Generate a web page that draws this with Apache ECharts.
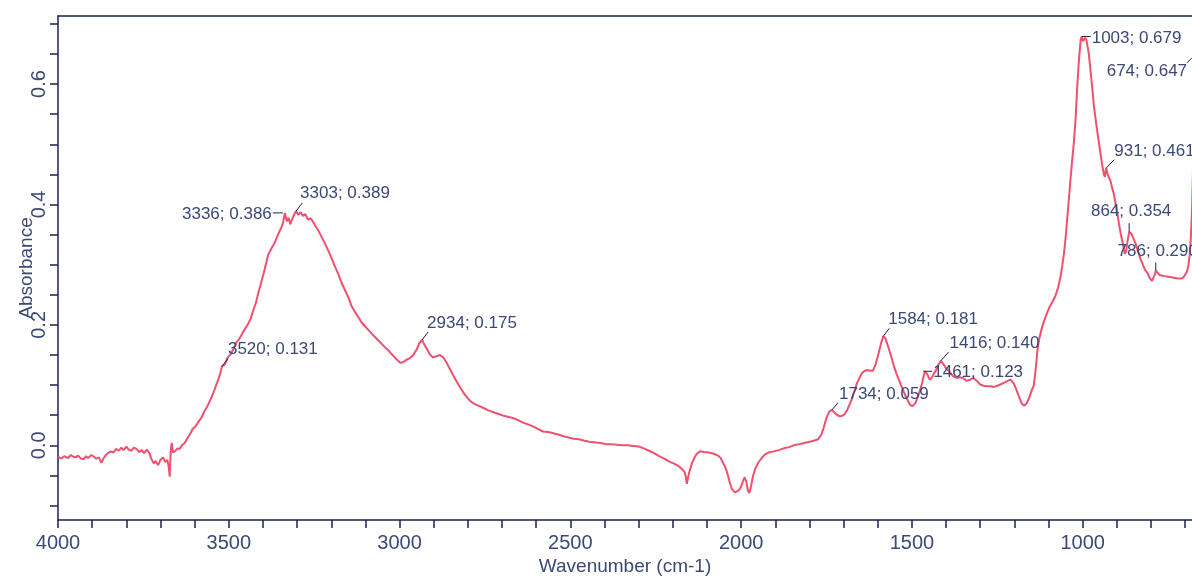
<!DOCTYPE html>
<html>
<head>
<meta charset="utf-8">
<script src="https://cdn.jsdelivr.net/npm/echarts@6/dist/echarts.min.js"></script>
<style>
html,body{margin:0;padding:0;background:#fff;}
#chart{width:1192px;height:577px;}
</style>
</head>
<body>
<div id="chart"></div>
<script>
// ---- DATA ----
const wavenumbers = [
4000,3990,3982,3971,3962,3955,3948,3941,3933,3925,3918,3912,3902,3895,3888,3880,3873,3866,3860,3854,
3845,3838,3830,3822,3815,3808,3800,3793,3785,3778,3770,3762,3755,3748,3740,3733,3727,3720,3714,3707,
3700,3692,3686,3680,3676,3673,3670,3667,3663,3656,3650,3644,3636,3629,3620,3612,3605,3598,3590,3580,
3570,3560,3551,3542,3533,3526,3520,3512,3503,3495,3486,3478,3470,3462,3453,3444,3436,3428,3421,3414,
3405,3395,3385,3376,3366,3356,3346,3341,3336,3330,3325,3320,3315,3308,3303,3297,3290,3283,3276,3268,
3260,3252,3245,3238,3229,3220,3210,3200,3190,3180,3170,3160,3150,3141,3132,3122,3111,3100,3090,3082,
3072,3062,3053,3043,3033,3024,3014,3005,2998,2990,2980,2970,2960,2950,2942,2934,2928,2920,2911,2902,
2892,2882,2872,2862,2852,2842,2830,2820,2810,2800,2790,2778,2766,2754,2740,2725,2710,2695,2680,2666,
2650,2635,2620,2608,2594,2580,2565,2550,2535,2520,2505,2490,2475,2461,2445,2430,2412,2395,2380,2364,
2348,2332,2315,2300,2285,2270,2255,2240,2225,2210,2198,2188,2180,2172,2166,2162,2159,2155,2150,2144,
2138,2130,2120,2108,2095,2080,2068,2060,2053,2046,2040,2034,2027,2018,2010,2003,1996,1990,1985,1980,
1976,1971,1965,1958,1950,1940,1930,1920,1905,1890,1875,1860,1846,1830,1815,1800,1785,1775,1765,1758,
1750,1742,1734,1726,1718,1710,1700,1690,1680,1670,1661,1653,1646,1638,1630,1622,1614,1606,1598,1590,
1584,1578,1570,1562,1553,1544,1534,1524,1514,1505,1498,1490,1483,1476,1470,1464,1461,1455,1448,1442,
1436,1430,1424,1416,1408,1400,1390,1380,1370,1360,1350,1340,1330,1320,1310,1300,1290,1280,1270,1260,
1250,1241,1230,1220,1211,1202,1194,1186,1179,1172,1165,1158,1150,1143,1137,1132,1127,1121,1114,1107,
1100,1094,1087,1080,1072,1065,1060,1055,1050,1046,1041,1036,1031,1026,1021,1016,1011,1006,1003,999,
996,993,989,985,982,977,972,967,962,958,953,948,943,938,935,933,931,928,923,919,
914,909,904,899,894,889,884,881,877,873,869,864,858,852,845,838,831,824,818,811,
804,797,792,789,786,781,775,768,760,750,740,730,720,712,705,700,695,690,686,683,
680,677,674
];
const absorbance = [
-0.019,-0.022,-0.018,-0.021,-0.016,-0.019,-0.020,-0.017,-0.022,-0.023,-0.018,-0.021,-0.016,-0.019,-0.022,-0.020,-0.029,-0.021,-0.016,-0.013,
-0.010,-0.012,-0.006,-0.009,-0.004,-0.008,-0.002,-0.007,-0.009,-0.004,-0.006,-0.011,-0.008,-0.013,-0.007,-0.012,-0.022,-0.030,-0.026,-0.033,
-0.024,-0.020,-0.028,-0.024,-0.035,-0.052,-0.010,0.004,-0.012,-0.009,-0.005,-0.006,0.001,0.004,0.013,0.020,0.028,0.031,0.038,0.046,
0.058,0.068,0.079,0.092,0.106,0.117,0.131,0.134,0.146,0.151,0.160,0.171,0.176,0.184,0.193,0.201,0.210,0.225,0.236,0.252,
0.271,0.292,0.316,0.326,0.336,0.350,0.362,0.370,0.386,0.372,0.378,0.367,0.375,0.384,0.389,0.383,0.387,0.381,0.384,0.375,
0.377,0.370,0.363,0.357,0.347,0.337,0.325,0.312,0.298,0.285,0.270,0.258,0.246,0.232,0.223,0.214,0.204,0.197,0.191,0.186,
0.180,0.174,0.169,0.163,0.158,0.152,0.146,0.141,0.137,0.138,0.142,0.145,0.150,0.159,0.170,0.175,0.168,0.160,0.151,0.146,
0.148,0.150,0.146,0.137,0.126,0.115,0.103,0.094,0.085,0.078,0.072,0.068,0.065,0.062,0.058,0.055,0.052,0.049,0.047,0.045,
0.041,0.037,0.034,0.031,0.027,0.023,0.022,0.020,0.018,0.015,0.013,0.011,0.010,0.008,0.006,0.005,0.004,0.002,0.002,0.001,
0.000,0.000,-0.001,-0.002,-0.005,-0.009,-0.013,-0.018,-0.022,-0.027,-0.030,-0.033,-0.036,-0.040,-0.044,-0.052,-0.064,-0.052,-0.041,-0.030,
-0.022,-0.014,-0.010,-0.011,-0.012,-0.014,-0.017,-0.021,-0.029,-0.037,-0.047,-0.060,-0.073,-0.078,-0.076,-0.072,-0.062,-0.053,-0.060,-0.075,
-0.079,-0.068,-0.050,-0.038,-0.029,-0.021,-0.015,-0.012,-0.010,-0.008,-0.005,-0.003,0.000,0.002,0.004,0.006,0.008,0.010,0.018,0.030,
0.046,0.056,0.059,0.054,0.050,0.048,0.050,0.058,0.071,0.087,0.103,0.113,0.120,0.124,0.125,0.124,0.124,0.135,0.152,0.170,
0.181,0.178,0.165,0.150,0.132,0.117,0.103,0.089,0.076,0.067,0.065,0.070,0.080,0.092,0.104,0.119,0.123,0.118,0.109,0.112,
0.119,0.124,0.132,0.140,0.135,0.128,0.122,0.115,0.112,0.113,0.112,0.107,0.109,0.112,0.107,0.101,0.099,0.098,0.098,0.097,
0.099,0.101,0.104,0.107,0.109,0.103,0.092,0.080,0.070,0.066,0.069,0.077,0.090,0.100,0.130,0.160,0.178,0.192,0.205,0.216,
0.226,0.233,0.240,0.248,0.262,0.280,0.298,0.318,0.345,0.372,0.405,0.440,0.472,0.502,0.540,0.595,0.640,0.673,0.679,0.671,
0.668,0.677,0.673,0.660,0.650,0.622,0.593,0.563,0.541,0.524,0.505,0.485,0.466,0.450,0.446,0.455,0.461,0.452,0.444,0.440,
0.428,0.418,0.402,0.386,0.369,0.352,0.339,0.331,0.318,0.322,0.338,0.354,0.352,0.344,0.335,0.322,0.310,0.300,0.292,0.287,
0.278,0.273,0.276,0.284,0.290,0.287,0.283,0.282,0.281,0.280,0.279,0.278,0.277,0.277,0.279,0.282,0.288,0.300,0.320,0.350,
0.390,0.460,0.647
];

// Peak annotations (wavenumber, absorbance)
const annWn  = [3520, 3336, 3303, 2934, 1734, 1584, 1461, 1416, 1003, 674, 931, 864, 786];
const annAbs = [0.131, 0.386, 0.389, 0.175, 0.059, 0.181, 0.123, 0.140, 0.679, 0.647, 0.461, 0.354, 0.290];

// Axis ticks / labels
const xTickValues  = [];
for (let v = 700; v <= 4000; v += 100) xTickValues.push(v);
const xLabelValues = [1000, 1500, 2000, 2500, 3000, 3500, 4000];
const yTickValues  = [];
for (let i = -2; i <= 14; i++) yTickValues.push(Math.round(i * 5) / 100);
const yLabelValues = [0, 0.2, 0.4, 0.6];

// ---- LAYOUT / STYLE for annotations (pixel offsets relative to the point) ----
// l: leader line [x1,y1,x2,y2], t: text anchor [x,y], a: text align
const annLayout = [
  {l:[0,0,6,-8],   t:[6,-17],  a:'left'},
  {l:[-2,0,-12,0], t:[-13,1],  a:'right'},
  {l:[0,0,6,-8],   t:[4,-18],  a:'left'},
  {l:[0,0,6,-8],   t:[5,-17],  a:'left'},
  {l:[0,0,6,-7],   t:[7,-15],  a:'left'},
  {l:[0,0,6,-8],   t:[5,-17],  a:'left'},
  {l:[-2,0,7,0],   t:[8,1],    a:'left'},
  {l:[0,0,8,-9],   t:[9,-18],  a:'left'},
  {l:[0,0,9,0],    t:[10,2],   a:'left'},
  {l:[-2,2,-7,7],  t:[-7,16],  a:'right'},
  {l:[0,0,8,-8],   t:[8,-16],  a:'left'},
  {l:[0,0,0,-9],   t:[2,-21],  a:'center'},
  {l:[0,0,0,-8],   t:[2,-19],  a:'center'}
];

const AXIS_COLOR = '#1b2050';
const TEXT_COLOR = '#3c4876';
const FONT = '"Liberation Sans", Arial, sans-serif';

const chart = echarts.init(document.getElementById('chart'), null, {renderer: 'canvas'});

const option = {
  animation: false,
  backgroundColor: '#ffffff',
  grid: {left: 58, right: 0, top: 16, bottom: 57, containLabel: false, outerBoundsMode: 'none'},
  xAxis: [{
    type: 'value',
    inverse: true,
    min: 680,
    max: 4000,
    name: 'Wavenumber (cm-1)',
    nameLocation: 'middle',
    nameGap: 37,
    nameMoveOverlap: false,
    nameTextStyle: {color: TEXT_COLOR, fontSize: 19, fontFamily: FONT},
    axisLine: {show: true, onZero: false, lineStyle: {color: AXIS_COLOR, width: 1.5}},
    axisTick: {show: true, inside: false, length: 8, customValues: xTickValues, lineStyle: {color: AXIS_COLOR, width: 1.5}},
    axisLabel: {show: true, margin: 13, customValues: xLabelValues, color: TEXT_COLOR, fontSize: 20, fontFamily: FONT,
      formatter: v => String(v)},
    splitLine: {show: false}
  }, {
    type: 'value',
    position: 'top',
    inverse: true,
    min: 680,
    max: 4000,
    axisLine: {show: true, onZero: false, lineStyle: {color: AXIS_COLOR, width: 1.5}},
    axisTick: {show: false},
    axisLabel: {show: false},
    splitLine: {show: false}
  }],
  yAxis: {
    type: 'value',
    min: -0.124,
    max: 0.713,
    name: 'Absorbance',
    nameLocation: 'middle',
    nameRotate: 90,
    nameGap: 22,
    nameMoveOverlap: false,
    nameTextStyle: {color: TEXT_COLOR, fontSize: 19, fontFamily: FONT},
    axisLine: {show: true, onZero: false, lineStyle: {color: AXIS_COLOR, width: 1.5}},
    axisTick: {show: true, inside: false, length: 8, customValues: yTickValues, lineStyle: {color: AXIS_COLOR, width: 1.5}},
    axisLabel: {show: true, rotate: 90, margin: 9, customValues: yLabelValues, color: TEXT_COLOR, fontSize: 20, fontFamily: FONT,
      formatter: v => Number(v).toFixed(1)},
    splitLine: {show: false}
  },
  series: [{
    type: 'line',
    xAxisIndex: 0,
    yAxisIndex: 0,
    data: wavenumbers.map((w, i) => [w, absorbance[i]]),
    showSymbol: false,
    symbol: 'none',
    clip: true,
    lineStyle: {color: '#f0506e', width: 2},
    z: 2
  }, {
    type: 'custom',
    xAxisIndex: 0,
    yAxisIndex: 0,
    clip: false,
    silent: true,
    z: 5,
    data: annWn.map((w, i) => [w, annAbs[i]]),
    encode: {x: 0, y: 1},
    renderItem: function (params, api) {
      const i = params.dataIndex;
      const w = api.value(0), a = api.value(1);
      const p = api.coord([w, a]);
      const L = annLayout[i];
      return {
        type: 'group',
        children: [{
          type: 'line',
          shape: {x1: p[0] + L.l[0], y1: p[1] + L.l[1], x2: p[0] + L.l[2], y2: p[1] + L.l[3]},
          style: {stroke: '#1e2448', lineWidth: 1}
        }, {
          type: 'text',
          x: p[0] + L.t[0],
          y: p[1] + L.t[1],
          style: {
            text: w + '; ' + a.toFixed(3),
            fill: TEXT_COLOR,
            fontSize: 17,
            fontFamily: FONT,
            align: L.a,
            verticalAlign: 'middle'
          }
        }]
      };
    }
  }]
};

chart.setOption(option);
</script>
</body>
</html>
